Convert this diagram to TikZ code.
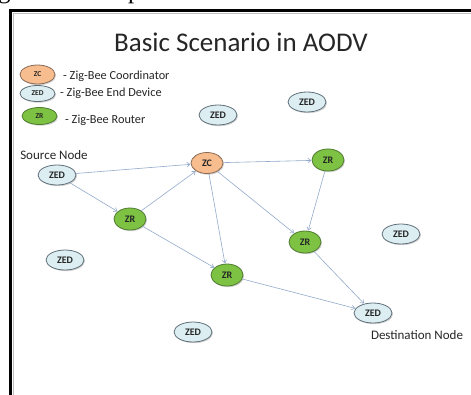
\documentclass[tikz,border=0pt]{standalone}
\usepackage{fontspec}
\setmainfont{Carlito}
\newfontfamily\bodyserif{Liberation Serif}
\usetikzlibrary{shapes.geometric,shadows,arrows.meta}
\definecolor{zcfill}{HTML}{F8BD8E}
\definecolor{zcdraw}{HTML}{8A6A55}
\definecolor{zedfill}{HTML}{DDEEF3}
\definecolor{zeddraw}{HTML}{5E6E78}
\definecolor{zrfill}{HTML}{7DC243}
\definecolor{zrdraw}{HTML}{4F7A30}
\definecolor{linkcol}{HTML}{93A9CB}
\tikzstyle{baseNode}=[shape = ellipse, inner sep = 0pt, line width = 0.8pt, drop shadow = {opacity = 0.35, shadow xshift = 1pt, shadow yshift = -1.2pt}, font = \fontsize{10}{11}\selectfont\bfseries, text = black!85]
\tikzstyle{zcStyle}=[baseNode, minimum width = 32pt, minimum height = 21pt, fill = zcfill, draw = zcdraw]
\tikzstyle{zedStyle}=[baseNode, minimum width = 38pt, minimum height = 20pt, fill = zedfill, draw = zeddraw]
\tikzstyle{zrStyle}=[baseNode, minimum width = 32pt, minimum height = 22pt, fill = zrfill, draw = zrdraw]
\tikzstyle{legendZc}=[zcStyle, minimum width = 35pt, minimum height = 19pt, font = \fontsize{7.5}{8}\selectfont\bfseries]
\tikzstyle{legendZed}=[zedStyle, minimum width = 35pt, minimum height = 16pt, font = \fontsize{7.5}{8}\selectfont\bfseries]
\tikzstyle{legendZr}=[zrStyle, minimum width = 35pt, minimum height = 17pt, font = \fontsize{7.5}{8}\selectfont\bfseries]
\begin{document}
\begin{tikzpicture}[x = 1pt, y = -1pt]
\tikzstyle{linkStyle}=[draw = linkcol, line width = 0.6pt, -{To[length = 3.5pt, width = 5pt]}, shorten >= 0.5pt]
\tikzstyle{legendText}=[anchor = west, inner sep = 0pt, font = \fontsize{12.3}{14}\selectfont, text = black!85]
\tikzstyle{tagText}=[font = \fontsize{13}{15}\selectfont, text = black!85]
\useasboundingbox (0,0) rectangle (471,394);
% Text of the page, cut at the top
\node[anchor = base west, inner sep = 0pt, font = \bodyserif\fontsize{25}{28}\selectfont] (pagetext) at (-2,-1.5) {give it a complete form.};
% Frame
\draw[line width = 3pt, line cap = rect] (10.5,400) -- (10.5,10.5) -- (480,10.5);
\draw[black!25, line width = 1.5pt] (13.5,400) -- (13.5,13.5) -- (480,13.5);
% Title
\node[font = \fontsize{27}{30}\selectfont, text = black!85] (title) at (241,42) {Basic Scenario in AODV};
% Legend
\node[legendZc] (lzc) at (37.5,74.5) {ZC};
\node[legendZed] (lzed) at (37.5,93.5) {ZED};
\node[legendZr] (lzr) at (39.5,116) {ZR};
\node[legendText] (tzc) at (63,76) {- Zig-Bee Coordinator};
\node[legendText] (tzed) at (60,93) {- Zig-Bee End Device};
\node[legendText] (tzr) at (65,120) {- Zig-Bee Router};
% Network
\node[zedStyle] (src) at (57,175) {ZED};
\node[zcStyle] (zc) at (207,163) {ZC};
\node[zrStyle] (zr1) at (130,219) {ZR};
\node[zrStyle] (zr2) at (328,160) {ZR};
\node[zrStyle] (zr3) at (305,242) {ZR};
\node[zrStyle] (zr4) at (227,275) {ZR};
\node[zedStyle] (dst) at (373,313) {ZED};
\node[zedStyle] (zed1) at (218,115) {ZED};
\node[zedStyle] (zed2) at (307,102) {ZED};
\node[zedStyle] (zed3) at (65,260) {ZED};
\node[zedStyle] (zed4) at (401,234) {ZED};
\node[zedStyle] (zed5) at (193,332) {ZED};
\node[tagText] (srctag) at (54,155) {Source Node};
\node[tagText] (dsttag) at (417,335) {Destination Node};
\draw[linkStyle] (src) -- (zc);
\draw[linkStyle] (src) -- (zr1);
\draw[linkStyle] (zr1) -- (zc);
\draw[linkStyle] (zr1) -- (zr4);
\draw[linkStyle] (zc) -- (zr4);
\draw[linkStyle] (zc) -- (zr2);
\draw[linkStyle] (zc) -- (zr3);
\draw[linkStyle] (zr2) -- (zr3);
\draw[linkStyle] (zr3) -- (dst);
\draw[linkStyle] (zr4) -- (dst);
\end{tikzpicture}
\end{document}
